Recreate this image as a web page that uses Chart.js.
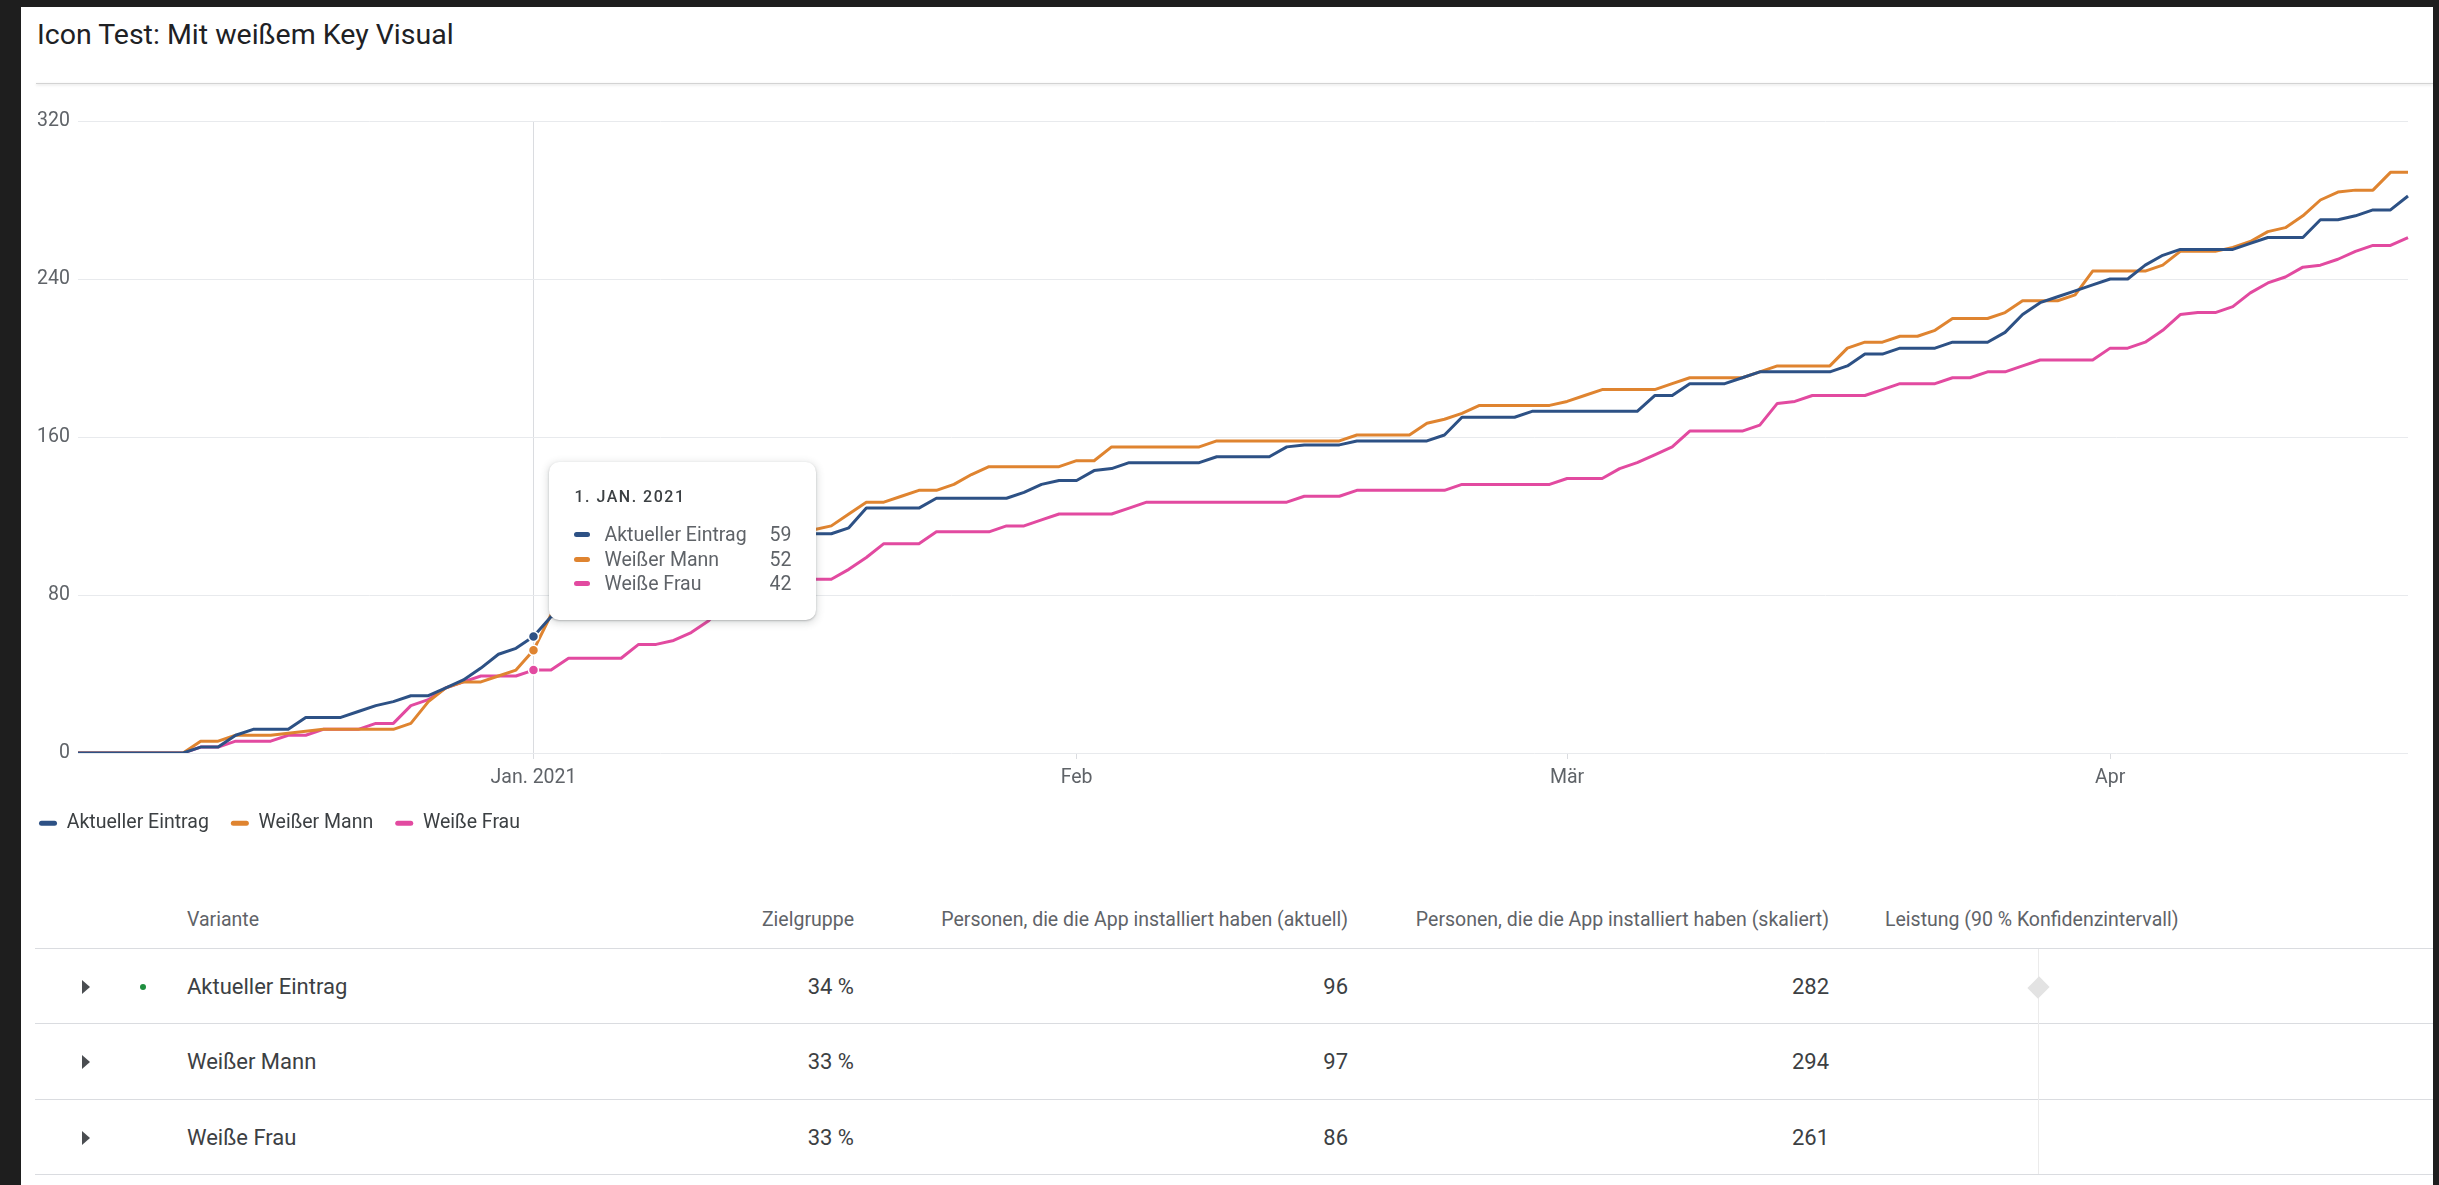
<!DOCTYPE html>
<html>
<head>
<meta charset="utf-8">
<script src="https://cdn.jsdelivr.net/npm/chart.js@4.4.0/dist/chart.umd.min.js"></script>
<style>
  html, body { margin: 0; padding: 0; }
  body { width: 2439px; height: 1185px; background: #1e1e1e; position: relative; overflow: hidden; font-family: Roboto, sans-serif; }
  #panel { position: absolute; left: 21px; top: 7px; width: 2412px; height: 1178px; background: #fff; }
  #title { position: absolute; left: 37px; top: 18px; font-size: 28.5px; line-height: 34px; font-weight: 400; color: #202124; }
  #sep { position: absolute; left: 36px; top: 83px; width: 2397px; height: 1px; background: #d3d3d3; box-shadow: 0 1px 3px rgba(0,0,0,0.18); }
  #wrap { position: absolute; left: 17px; top: 95px; width: 2405px; height: 748px; }
  #tip { position: absolute; box-sizing: border-box; width: 267px; padding: 26px 25px 24px; background: #fff;
         border-radius: 10px; box-shadow: 0 1px 2px rgba(60,64,67,0.3), 0 2px 7px 2px rgba(60,64,67,0.15);
         pointer-events: none; opacity: 0; }
  #tip .tt { font-size: 16px; font-weight: 500; letter-spacing: 1.5px; line-height: 18px; color: #3c4043; margin-bottom: 16px; }
  #tip .r { display: flex; align-items: center; height: 24.5px; font-size: 19.5px; color: #5f6368; }
  #tip .sw { width: 16px; height: 5px; border-radius: 3px; margin-right: 14px; }
  #tip .lb { flex: 1; }
  .th { position: absolute; font-size: 19.5px; line-height: 24px; color: #5f6368; white-space: nowrap; }
  .td { position: absolute; font-size: 22px; line-height: 28px; color: #3c4043; white-space: nowrap; }
  .hl { position: absolute; left: 35px; width: 2398px; height: 1px; background: #dadce0; }
  .arrow { position: absolute; width: 0; height: 0; border-left: 8px solid #4a4d51; border-top: 7px solid transparent; border-bottom: 7px solid transparent; }
  .dot { position: absolute; width: 6px; height: 6px; border-radius: 50%; background: #1e8e3e; }
</style>
</head>
<body>
<div id="panel"></div>
<div id="title">Icon Test: Mit weißem Key Visual</div>
<div id="sep"></div>
<div id="wrap"><canvas id="myChart" width="2405" height="748"></canvas><div id="tip"></div></div>
<div id="table"></div>
<script>
// series names and colours
const series = ['Aktueller Eintrag', 'Weißer Mann', 'Weiße Frau'];
const colors = ['#2d5185', '#df8430', '#e24aa0'];

// one value per day, starting at firstDay
const firstDay = '2020-12-06';
const aktuell = [
  0, 0, 0, 0, 0, 0, 0, 3, 3, 9,
  12, 12, 12, 18, 18, 18, 21, 24, 26, 29,
  29, 33, 37, 43, 50, 53, 59, 69, 70, 72,
  76, 78, 83, 85, 88, 92, 94, 97, 101, 103,
  107, 110, 111, 111, 114, 124, 124, 124, 124, 129,
  129, 129, 129, 129, 132, 136, 138, 138, 143, 144,
  147, 147, 147, 147, 147, 150, 150, 150, 150, 155,
  156, 156, 156, 158, 158, 158, 158, 158, 161, 170,
  170, 170, 170, 173, 173, 173, 173, 173, 173, 173,
  181, 181, 187, 187, 187, 190, 193, 193, 193, 193,
  193, 196, 202, 202, 205, 205, 205, 208, 208, 208,
  213, 222, 228, 231, 234, 237, 240, 240, 247, 252,
  255, 255, 255, 255, 258, 261, 261, 261, 270, 270,
  272, 275, 275, 282
];
const mann = [
  0, 0, 0, 0, 0, 0, 0, 6, 6, 9,
  9, 9, 10, 11, 12, 12, 12, 12, 12, 15,
  26, 33, 36, 36, 39, 42, 52, 70, 72, 74,
  78, 80, 84, 87, 90, 94, 96, 100, 103, 105,
  109, 112, 113, 115, 121, 127, 127, 130, 133, 133,
  136, 141, 145, 145, 145, 145, 145, 148, 148, 155,
  155, 155, 155, 155, 155, 158, 158, 158, 158, 158,
  158, 158, 158, 161, 161, 161, 161, 167, 169, 172,
  176, 176, 176, 176, 176, 178, 181, 184, 184, 184,
  184, 187, 190, 190, 190, 190, 193, 196, 196, 196,
  196, 205, 208, 208, 211, 211, 214, 220, 220, 220,
  223, 229, 229, 229, 232, 244, 244, 244, 244, 247,
  254, 254, 254, 256, 259, 264, 266, 272, 280, 284,
  285, 285, 294, 294
];
const frau = [
  0, 0, 0, 0, 0, 0, 0, 3, 3, 6,
  6, 6, 9, 9, 12, 12, 12, 15, 15, 24,
  27, 33, 36, 39, 39, 39, 42, 42, 48, 48,
  48, 48, 55, 55, 57, 61, 67, 77, 86, 88,
  88, 88, 88, 88, 93, 99, 106, 106, 106, 112,
  112, 112, 112, 115, 115, 118, 121, 121, 121, 121,
  124, 127, 127, 127, 127, 127, 127, 127, 127, 127,
  130, 130, 130, 133, 133, 133, 133, 133, 133, 136,
  136, 136, 136, 136, 136, 139, 139, 139, 144, 147,
  151, 155, 163, 163, 163, 163, 166, 177, 178, 181,
  181, 181, 181, 184, 187, 187, 187, 190, 190, 193,
  193, 196, 199, 199, 199, 199, 205, 205, 208, 214,
  222, 223, 223, 226, 233, 238, 241, 246, 247, 250,
  254, 257, 257, 261
];

// x axis tick labels
const tickDates = ['2021-01-01', '2021-02-01', '2021-03-01', '2021-04-01'];
const tickLabels = ['Jan. 2021', 'Feb', 'Mär', 'Apr'];
const hoverDate = '2021-01-01';
const monthUpper = ['JAN.', 'FEB.', 'MÄR.', 'APR.', 'MAI', 'JUNI', 'JULI', 'AUG.', 'SEPT.', 'OKT.', 'NOV.', 'DEZ.'];

// table below the chart
const zielgruppe = [34, 33, 33];
const installiertAktuell = [96, 97, 86];
const installiertSkaliert = [282, 294, 261];

// day labels
let days = [];
const start = new Date(firstDay + 'T00:00:00Z');
for (let i = 0; i < aktuell.length; i += 1) {
  days.push(new Date(start.getTime() + i * 86400000).toISOString().slice(0, 10));
}
const hoverIdx = days.indexOf(hoverDate);

function tipTitle(label) {
  const p = label.split('-');
  return parseInt(p[2], 10) + '. ' + monthUpper[parseInt(p[1], 10) - 1] + ' ' + p[0];
}

function externalTip(context) {
  const tooltip = context.tooltip;
  const el = document.getElementById('tip');
  if (tooltip.opacity === 0 || !tooltip.dataPoints) {
    el.style.opacity = 0;
    return;
  }
  let html = '<div class="tt">' + tipTitle(tooltip.dataPoints[0].label) + '</div>';
  tooltip.dataPoints.forEach(function(dp) {
    html += '<div class="r"><span class="sw" style="background:' + colors[dp.datasetIndex] + '"></span>' +
      '<span class="lb">' + dp.dataset.label + '</span><span>' + dp.raw + '</span></div>';
  });
  el.innerHTML = html;
  const ys = tooltip.dataPoints.map(function(dp) { return dp.element.y; });
  el.style.left = (tooltip.caretX + 16) + 'px';
  el.style.top = (Math.min.apply(null, ys) - 16 - el.offsetHeight) + 'px';
  el.style.opacity = 1;
}

Chart.defaults.font.family = 'Roboto';
Chart.defaults.font.size = 19.5;

const values = [aktuell, mann, frau];
var ctx = document.getElementById('myChart').getContext('2d');
var chart = new Chart(ctx, {
  type: 'line',
  data: {
    labels: days,
    datasets: series.map(function(name, i) {
      return {
        label: name,
        data: values[i],
        borderColor: colors[i],
        backgroundColor: colors[i],
        borderWidth: 3,
        borderJoinStyle: 'round',
        tension: 0,
        pointRadius: 0,
        pointHoverRadius: 5,
        pointHoverBorderWidth: 1.5,
        pointHoverBorderColor: '#fff',
        pointHoverBackgroundColor: colors[i]
      };
    })
  },
  options: {
    responsive: false,
    animation: false,
    events: [],
    layout: { padding: { top: 26, right: 14, left: 0, bottom: 0 } },
    interaction: { mode: 'index', intersect: false },
    scales: {
      x: {
        grid: {
          color: function(c) { return (c.tick && c.tick.value === hoverIdx) ? '#dadce0' : 'rgba(0,0,0,0)'; },
          tickColor: '#dadce0',
          tickLength: 6
        },
        border: { display: false },
        ticks: {
          autoSkip: false,
          maxRotation: 0,
          padding: 7,
          color: '#5f6368',
          callback: function(v) {
            const k = tickDates.indexOf(this.getLabelForValue(v));
            return k < 0 ? null : tickLabels[k];
          }
        },
        afterFit: function(s) { s.height = 38.5; }
      },
      y: {
        min: 0,
        max: 320,
        grid: { color: '#e8eaed', drawTicks: false },
        border: { display: false },
        ticks: { stepSize: 80, padding: 8, color: '#5f6368' },
        afterFit: function(s) { s.width = 61; }
      }
    },
    plugins: {
      legend: {
        position: 'bottom',
        align: 'start',
        labels: {
          boxWidth: 18,
          boxHeight: 5,
          padding: 22,
          useBorderRadius: true,
          borderRadius: 2.5,
          color: '#3c4043',
          generateLabels: function(ch) {
            return ch.data.datasets.map(function(ds, i) {
              return { text: ds.label, fillStyle: ds.borderColor, strokeStyle: ds.borderColor,
                       lineWidth: 0, borderRadius: 2.5, hidden: false, datasetIndex: i, fontColor: '#3c4043' };
            });
          }
        }
      },
      tooltip: { enabled: false, external: externalTip }
    }
  }
});

// show the hovered day like in the screenshot
const act = series.map(function(s, i) { return { datasetIndex: i, index: hoverIdx }; });
chart.setActiveElements(act);
chart.update();
chart.tooltip.setActiveElements(act, { x: 0, y: 0 });

// table
const table = document.getElementById('table');
function add(cls, text, x, y, align, style) {
  const d = document.createElement('div');
  d.className = cls;
  if (text !== null) d.textContent = text;
  if (align === 'right') {
    d.style.left = (x - 700) + 'px';
    d.style.width = '700px';
    d.style.textAlign = 'right';
  } else {
    d.style.left = x + 'px';
  }
  d.style.top = y + 'px';
  if (style) Object.assign(d.style, style);
  table.appendChild(d);
  return d;
}
const headY = 920;
add('th', 'Variante', 187, headY - 12, 'left');
add('th', 'Zielgruppe', 854, headY - 12, 'right');
add('th', 'Personen, die die App installiert haben (aktuell)', 1348, headY - 12, 'right');
add('th', 'Personen, die die App installiert haben (skaliert)', 1829, headY - 12, 'right');
add('th', 'Leistung (90 % Konfidenzintervall)', 1885, headY - 12, 'left');
add('hl', null, 35, 948, 'left');

const rowCenters = [987, 1062, 1138];
const rowLines = [1023, 1099, 1174];
series.forEach(function(name, i) {
  const c = rowCenters[i];
  add('arrow', null, 82, c - 7, 'left');
  if (i === 0) add('dot', null, 140, c - 3, 'left');
  add('td', name, 187, c - 14, 'left');
  add('td', zielgruppe[i] + ' %', 854, c - 14, 'right');
  add('td', String(installiertAktuell[i]), 1348, c - 14, 'right');
  add('td', String(installiertSkaliert[i]), 1829, c - 14, 'right');
  add('hl', null, 35, rowLines[i], 'left');
});
// performance column: axis line and marker
add('vl', null, 2038, 949, 'left', { position: 'absolute', width: '1px', height: '225px', background: '#ebebeb' });
add('dm', null, 2031, rowCenters[0] - 7.5, 'left', { position: 'absolute', width: '15px', height: '15px', background: '#e3e3e3', transform: 'rotate(45deg) scaleY(1.1)' });
</script>
</body>
</html>
